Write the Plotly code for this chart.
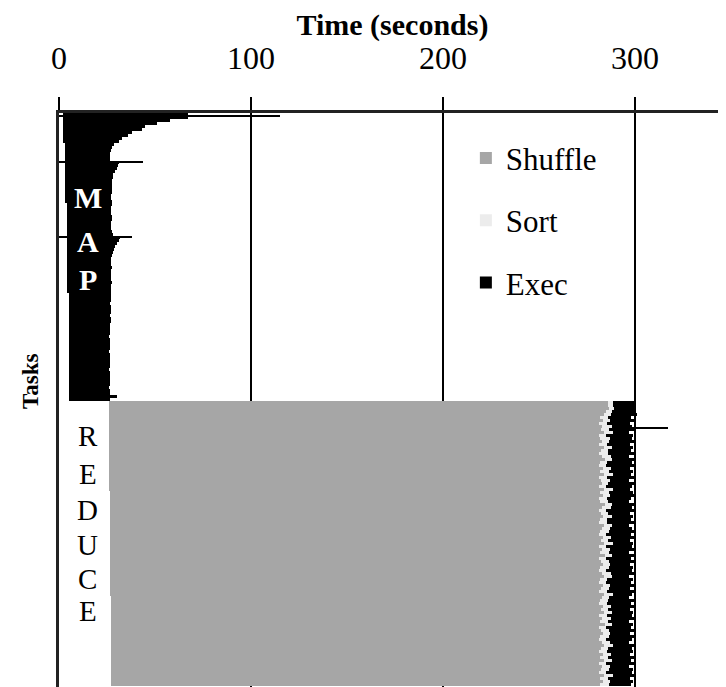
import plotly.graph_objects as go

# ---------------- data (seconds) ----------------
MAP_START = [
    2.0, 2.0, 2.0, 2.0, 2.0, 2.0, 2.0, 2.0, 2.0, 2.0,
    3.0, 3.0, 3.0, 3.0, 3.0, 3.0, 3.0, 3.0, 3.0, 3.0,
    3.0, 3.0, 3.0, 3.0, 3.0, 3.0, 3.0, 3.0, 3.0, 3.0,
    4.0, 4.0, 4.0, 4.0, 4.0, 4.0, 4.0, 4.0, 4.0, 4.0,
    4.0, 4.0, 4.0, 4.0, 4.0, 4.0, 4.0, 4.0, 4.0, 4.0,
    4.0, 4.0, 4.0, 4.0, 4.0, 4.0, 4.0, 4.0, 4.0, 4.0,
    5.0, 5.0, 5.0, 5.0, 5.0, 5.0, 5.0, 5.0, 5.0, 5.0,
    5.0, 5.0, 5.0, 5.0, 5.0, 5.0, 5.0, 5.0, 5.0, 5.0,
    5.0, 5.0, 5.0, 5.0, 5.0, 5.0, 5.0, 5.0, 5.0, 5.0,
    5.0, 5.0, 5.0, 5.0, 5.0, 5.0,
]
MAP_END = [
    67.0, 67.0, 58.0, 51.0, 45.0, 43.0, 38.0, 36.0, 33.0, 31.0,
    28.5, 27.5, 27.0, 26.5, 26.5, 26.5, 31.0, 30.5, 30.0, 29.0,
    28.0, 28.0, 27.5, 27.5, 27.5,
    27.5, 27.5, 27.0, 27.0, 27.5, 27.5, 27.0, 27.0, 27.0, 27.5,
    27.5, 27.0, 27.0, 27.0, 27.5,
    28.0, 32.0, 31.5, 30.0, 29.0, 28.5, 28.0,
    27.5, 27.0, 27.0, 27.0, 27.5, 27.0, 27.0, 27.0, 27.0, 27.5,
    27.0, 27.0, 27.0, 27.0, 27.0, 27.0, 26.5, 27.0, 27.0, 27.0,
    26.5, 27.0, 27.0, 26.5,
    26.5, 26.5, 26.5, 26.0, 26.5, 26.5, 26.5, 26.5, 26.0, 26.5,
    26.5, 26.5, 26.5, 26.5, 26.0, 26.5, 26.5, 26.5, 26.5, 26.5,
    26.0, 26.5, 26.5,
    30.0, 26.5,
]
# single long-running map tasks (drawn as thin lines)
MAP_OUTLIER_TASK = [0.6, 15.8, 41.0]
MAP_OUTLIER_END = [115.0, 43.5, 38.0]

RED_START = [
    26.0, 26.0, 26.0, 26.0, 26.0, 26.0, 26.0, 26.0, 26.0, 26.0,
    26.0, 26.0, 26.0, 26.0, 26.0, 26.0, 26.0, 26.0, 26.0, 26.0,
    26.0, 26.0, 26.0, 26.0, 26.0, 26.0, 26.0, 26.0, 26.0, 26.0,
    26.5, 26.5, 26.5, 26.5, 26.5, 26.5, 26.5, 26.5, 26.5, 26.5,
    26.5, 26.5, 26.5, 26.5, 26.5, 26.5, 26.5, 26.5, 26.5, 26.5,
    26.5, 26.5, 26.5, 26.5, 26.5, 26.5, 26.5, 26.5, 26.5, 26.5,
    26.5, 26.5, 26.5, 26.5, 26.5, 27.0, 27.0, 27.0, 27.0, 27.0,
    27.0, 27.0, 27.0, 27.0, 27.0, 27.0, 27.0, 27.0, 27.0, 27.0,
    27.0, 27.0, 27.0, 27.0, 27.0, 27.0, 27.0, 27.0, 27.0, 27.0,
    27.0, 27.0, 27.0, 27.0, 27.0,
]
SHUFFLE_END = [
    286.0, 286.0, 286.5, 285.0, 284.0, 282.0, 283.5, 281.0, 283.0, 282.5,
    284.0, 281.5, 282.0, 283.0, 281.0, 284.0, 282.5, 281.5, 283.0, 284.5,
    282.0, 281.0, 283.5, 282.0, 284.0, 281.5, 282.5, 283.0, 281.0, 284.0,
    282.0, 283.5, 281.5, 282.0, 284.5, 283.0, 281.0, 282.5, 283.5, 282.0,
    281.5, 284.0, 283.0, 282.0, 281.0, 283.5, 282.5, 284.0, 281.5, 283.0,
    282.0, 284.5, 281.0, 282.5, 283.5, 282.0, 281.5, 283.0, 284.0, 282.0,
    281.0, 283.5, 282.5, 281.5, 284.0, 283.0, 282.0, 281.0, 283.5, 282.5,
    284.0, 281.5, 283.0, 282.0, 284.5, 281.0, 282.5, 283.5, 282.0, 281.5,
    283.0, 284.0, 282.5, 281.0, 283.5, 282.0, 284.0, 281.5, 283.0, 282.5,
    281.0, 284.0, 282.0, 283.5, 282.0,
]
SORT_END = [
    288.5, 288.5, 289.0, 288.0, 287.5, 286.0, 287.0, 285.5, 288.0, 286.5,
    288.5, 285.0, 287.0, 286.5, 285.5, 288.0, 286.0, 286.0, 287.5, 288.0,
    285.5, 285.0, 287.5, 286.5, 288.5, 285.5, 287.0, 286.0, 285.0, 288.5,
    286.5, 287.0, 285.5, 286.0, 288.0, 287.5, 285.0, 286.0, 288.0, 285.5,
    285.5, 288.0, 287.0, 286.5, 285.0, 287.5, 286.0, 288.5, 285.0, 287.0,
    286.5, 288.0, 285.0, 286.5, 287.0, 286.5, 285.0, 287.5, 288.0, 285.5,
    285.0, 287.0, 286.5, 285.5, 288.5, 286.5, 286.0, 285.5, 287.5, 286.0,
    288.0, 285.5, 287.5, 286.0, 288.0, 285.0, 286.5, 287.0, 286.5, 285.0,
    287.0, 288.5, 286.0, 285.5, 287.5, 286.0, 288.0, 285.0, 287.0, 286.5,
    285.0, 288.5, 286.0, 287.0, 286.5,
]
EXEC_END = [
    300.0, 300.5, 300.0, 299.5, 301.0, 298.0, 299.5, 297.5, 298.5, 300.0,
    297.0, 299.0, 298.5, 300.5, 297.5, 299.0, 298.0, 300.0, 297.0, 299.5,
    298.5, 300.0, 297.5, 299.0, 298.0, 300.5, 297.0, 299.5, 298.5, 297.5,
    299.0, 300.0, 298.0, 297.0, 299.5, 298.5, 300.5, 297.5, 299.0, 298.0,
    300.0, 297.0, 298.5, 299.5, 298.0, 300.5, 297.5, 299.0, 298.5, 300.0,
    297.0, 299.5, 298.0, 300.0, 297.5, 299.0, 298.5, 300.5, 297.0, 299.0,
    298.0, 300.0, 297.5, 299.5, 298.5, 297.0, 300.0, 298.0, 299.5, 297.5,
    299.0, 298.5, 300.5, 297.0, 299.0, 298.0, 300.0, 297.5, 299.5, 298.5,
    297.0, 300.0, 298.5, 299.0, 297.5, 300.5, 298.0, 299.5, 297.0, 299.0,
    298.5, 300.0, 297.5, 299.0, 298.0,
]
RED_OUTLIER_TASK = [104.7]
RED_OUTLIER_START = [290.0]
RED_OUTLIER_END = [317.0]

X_TICKS = [0, 100, 200, 300]
MAP_LABEL = ["M", "A", "P"]
REDUCE_LABEL = ["R", "E", "D", "U", "C", "E"]

# ---------------- figure ----------------
SHUFFLE_C = "#a6a6a6"
SORT_C = "#ececec"
EXEC_C = "#000000"
FONT = "Liberation Serif"

n_map = len(MAP_END)
map_idx = list(range(n_map))
red_idx = [n_map + i for i in range(len(SHUFFLE_END))]

fig = go.Figure()


def hbar(name, y, start, end, color, show, width=1.15, group=None):
    fig.add_trace(go.Bar(
        name=name, orientation="h", y=y,
        base=start, x=[e - s for s, e in zip(start, end)],
        width=width,
        marker=dict(color=color, line=dict(width=0)),
        showlegend=show, legendgroup=group or name,
        hoverinfo="skip",
    ))


hbar("Shuffle", red_idx, RED_START, SHUFFLE_END, SHUFFLE_C, True)
hbar("Sort", red_idx, SHUFFLE_END, SORT_END, SORT_C, True)
hbar("Exec", red_idx, SORT_END, EXEC_END, EXEC_C, True)
hbar("Exec", map_idx, MAP_START, MAP_END, EXEC_C, False, group="Exec")
hbar("Exec", MAP_OUTLIER_TASK, [0.0] * len(MAP_OUTLIER_TASK), MAP_OUTLIER_END,
     EXEC_C, False, width=0.5, group="Exec")
hbar("Exec", RED_OUTLIER_TASK, RED_OUTLIER_START, RED_OUTLIER_END,
     EXEC_C, False, width=0.5, group="Exec")

annotations = []
for letter, ypx in zip(MAP_LABEL, [197, 241, 279]):
    annotations.append(dict(
        text="<b>%s</b>" % letter, x=15.0, y=(ypx - 113) / 3.0 - 0.5,
        xref="x", yref="y", showarrow=False,
        font=dict(family=FONT, size=30, color="white")))
for letter, ypx in zip(REDUCE_LABEL, [436, 474, 510, 545, 579, 611]):
    annotations.append(dict(
        text=letter, x=15.0, y=(ypx - 113) / 3.0 - 0.5,
        xref="x", yref="y", showarrow=False,
        font=dict(family=FONT, size=29, color="black")))
annotations.append(dict(
    text="<b>Tasks</b>", textangle=-90,
    x=0, xref="paper", xshift=-29, xanchor="center",
    y=1 - (382 - 113) / 574.0, yref="paper", yanchor="middle",
    showarrow=False,
    font=dict(family=FONT, size=23, color="black")))

# the page body adds an 8px offset, so the figure is 8px smaller and margins
# are reduced accordingly to keep the plot area at x 59..726, y 113..687
fig.update_layout(
    width=718, height=679,
    margin=dict(l=51, r=0, t=105, b=0, pad=0),
    paper_bgcolor="white", plot_bgcolor="white",
    barmode="overlay", bargap=0,
    font=dict(family=FONT, color="black"),
    xaxis=dict(
        side="top", range=[0, 347.4], tickvals=X_TICKS,
        ticks="outside", ticklen=13, tickwidth=2, tickcolor="black",
        ticklabelstandoff=15,
        showgrid=True, gridcolor="black", gridwidth=1.5,
        showline=True, linecolor="#222", linewidth=2.5,
        zeroline=False, tickfont=dict(size=32), automargin=False,
        title=dict(text="<b>Time (seconds)</b>", font=dict(size=30), standoff=14),
    ),
    yaxis=dict(
        range=[190.83, -0.5], showticklabels=False, ticks="",
        showgrid=False, zeroline=False, automargin=False,
        showline=True, linecolor="#222", linewidth=2.5,
    ),
    legend=dict(
        x=0.61, y=0.968, xanchor="left", yanchor="top",
        font=dict(size=31, family=FONT), bgcolor="rgba(0,0,0,0)",
        tracegroupgap=19, traceorder="grouped",
    ),
    annotations=annotations,
)

fig.write_html("out.html")
